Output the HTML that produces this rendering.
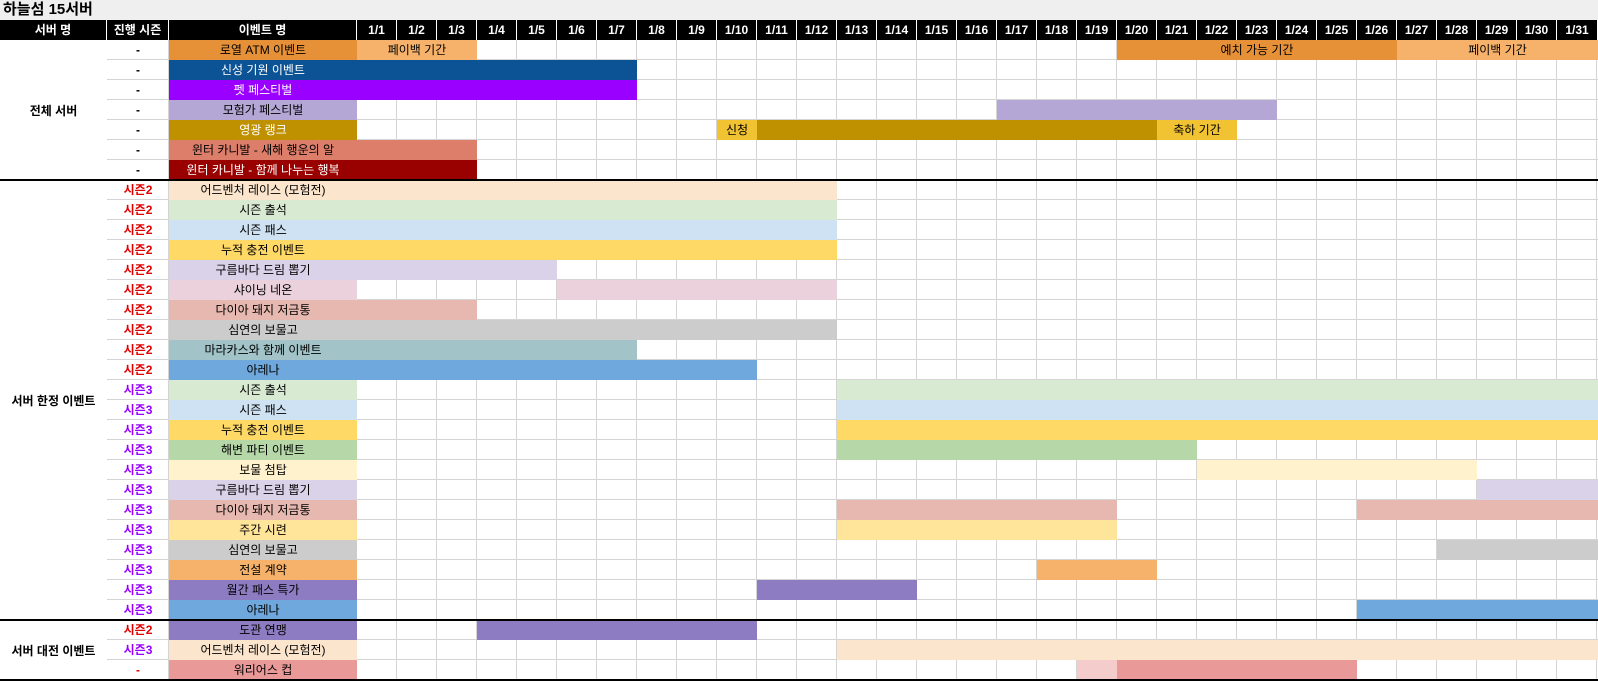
<!DOCTYPE html><html><head><meta charset="utf-8"><style>
body{margin:0;width:1598px;height:681px;overflow:hidden;background:#fff;font-family:"Liberation Sans","Noto Sans CJK KR","NanumGothic",sans-serif;font-size:12px;color:#000}
#w{position:relative;width:1598px;height:681px}
#w div{position:absolute;box-sizing:border-box}
.t{left:0;top:0;width:1598px;height:20px;background:#efefef;font-weight:bold;font-size:15px;line-height:20px;padding-left:3px}
.h{top:20px;height:20px;background:#000;color:#fff;font-weight:bold;text-align:center;line-height:20px;border-right:1px solid #fff}
.g{left:107px;top:40px;width:1491px;height:640px;background:
repeating-linear-gradient(to bottom,transparent 0 19px,#d4d4d4 19px 20px),
linear-gradient(to right,transparent 0 61px,#d4d4d4 61px 62px,transparent 62px)}
.gd{left:357px;top:40px;width:1241px;height:640px;background:repeating-linear-gradient(to right,transparent 0 39px,#d4d4d4 39px 40px)}
.e,.b{height:20px;line-height:20px;text-align:center;white-space:nowrap}
.e{left:169px;width:188px}
.s{left:107px;width:62px;height:20px;line-height:20px;text-align:center;font-weight:bold}
.r{color:#e00000}.p{color:#9900ff}
.k{left:0;width:1598px;height:2px;background:#000}
.sv{left:0;width:107px;text-align:center;font-weight:bold;background:#fff;display:flex;align-items:center;justify-content:center}
.wt{color:#fff}
</style></head><body><div id="w">
<div class="t">하늘섬 15서버</div>
<div class="g"></div><div class="gd"></div>
<div class="h" style="left:0;width:107px">서버 명</div>
<div class="h" style="left:107px;width:62px">진행 시즌</div>
<div class="h" style="left:169px;width:188px">이벤트 명</div>
<div class="h" style="left:357px;width:40px">1/1</div><div class="h" style="left:397px;width:40px">1/2</div><div class="h" style="left:437px;width:40px">1/3</div><div class="h" style="left:477px;width:40px">1/4</div><div class="h" style="left:517px;width:40px">1/5</div><div class="h" style="left:557px;width:40px">1/6</div><div class="h" style="left:597px;width:40px">1/7</div><div class="h" style="left:637px;width:40px">1/8</div><div class="h" style="left:677px;width:40px">1/9</div><div class="h" style="left:717px;width:40px">1/10</div><div class="h" style="left:757px;width:40px">1/11</div><div class="h" style="left:797px;width:40px">1/12</div><div class="h" style="left:837px;width:40px">1/13</div><div class="h" style="left:877px;width:40px">1/14</div><div class="h" style="left:917px;width:40px">1/15</div><div class="h" style="left:957px;width:40px">1/16</div><div class="h" style="left:997px;width:40px">1/17</div><div class="h" style="left:1037px;width:40px">1/18</div><div class="h" style="left:1077px;width:40px">1/19</div><div class="h" style="left:1117px;width:40px">1/20</div><div class="h" style="left:1157px;width:40px">1/21</div><div class="h" style="left:1197px;width:40px">1/22</div><div class="h" style="left:1237px;width:40px">1/23</div><div class="h" style="left:1277px;width:40px">1/24</div><div class="h" style="left:1317px;width:40px">1/25</div><div class="h" style="left:1357px;width:40px">1/26</div><div class="h" style="left:1397px;width:40px">1/27</div><div class="h" style="left:1437px;width:40px">1/28</div><div class="h" style="left:1477px;width:40px">1/29</div><div class="h" style="left:1517px;width:40px">1/30</div><div class="h" style="left:1557px;width:41px">1/31</div>

<div class="sv" style="top:40px;height:140px">전체 서버</div>
<div class="sv" style="top:180px;height:440px">서버 한정 이벤트</div>
<div class="sv" style="top:620px;height:60px">서버 대전 이벤트</div>

<!-- 전체 서버 -->
<div class="s" style="top:40px">-</div><div class="e" style="top:40px;background:#e69138">로열 ATM 이벤트</div>
<div class="b" style="top:40px;left:357px;width:120px;background:#f6b26b">페이백 기간</div>
<div class="b" style="top:40px;left:1117px;width:280px;background:#e69138">예치 가능 기간</div>
<div class="b" style="top:40px;left:1397px;width:201px;background:#f6b26b">페이백 기간</div>
<div class="s" style="top:60px">-</div><div class="e wt" style="top:60px;background:#0b5394">신성 기원 이벤트</div>
<div class="b" style="top:60px;left:357px;width:280px;background:#0b5394"></div>
<div class="s" style="top:80px">-</div><div class="e wt" style="top:80px;background:#9900ff">펫 페스티벌</div>
<div class="b" style="top:80px;left:357px;width:280px;background:#9900ff"></div>
<div class="s" style="top:100px">-</div><div class="e" style="top:100px;background:#b4a7d6">모험가 페스티벌</div>
<div class="b" style="top:100px;left:997px;width:280px;background:#b4a7d6"></div>
<div class="s" style="top:120px">-</div><div class="e wt" style="top:120px;background:#bf9000">영광 랭크</div>
<div class="b" style="top:120px;left:717px;width:40px;background:#f1c232">신청</div>
<div class="b" style="top:120px;left:757px;width:400px;background:#bf9000"></div>
<div class="b" style="top:120px;left:1157px;width:80px;background:#f1c232">축하 기간</div>
<div class="s" style="top:140px">-</div><div class="e" style="top:140px;background:#dd7e6b">윈터 카니발 - 새해 행운의 알</div>
<div class="b" style="top:140px;left:357px;width:120px;background:#dd7e6b"></div>
<div class="s" style="top:160px">-</div><div class="e wt" style="top:160px;background:#990000">윈터 카니발 - 함께 나누는 행복</div>
<div class="b" style="top:160px;left:357px;width:120px;background:#990000"></div>

<!-- 시즌2 -->
<div class="s r" style="top:180px">시즌2</div><div class="e" style="top:180px;background:#fce5cd">어드벤처 레이스 (모험전)</div>
<div class="b" style="top:180px;left:357px;width:480px;background:#fce5cd"></div>
<div class="s r" style="top:200px">시즌2</div><div class="e" style="top:200px;background:#d9ead3">시즌 출석</div>
<div class="b" style="top:200px;left:357px;width:480px;background:#d9ead3"></div>
<div class="s r" style="top:220px">시즌2</div><div class="e" style="top:220px;background:#cfe2f3">시즌 패스</div>
<div class="b" style="top:220px;left:357px;width:480px;background:#cfe2f3"></div>
<div class="s r" style="top:240px">시즌2</div><div class="e" style="top:240px;background:#ffd966">누적 충전 이벤트</div>
<div class="b" style="top:240px;left:357px;width:480px;background:#ffd966"></div>
<div class="s r" style="top:260px">시즌2</div><div class="e" style="top:260px;background:#d9d2e9">구름바다 드림 뽑기</div>
<div class="b" style="top:260px;left:357px;width:200px;background:#d9d2e9"></div>
<div class="s r" style="top:280px">시즌2</div><div class="e" style="top:280px;background:#ead1dc">샤이닝 네온</div>
<div class="b" style="top:280px;left:557px;width:280px;background:#ead1dc"></div>
<div class="s r" style="top:300px">시즌2</div><div class="e" style="top:300px;background:#e6b8af">다이아 돼지 저금통</div>
<div class="b" style="top:300px;left:357px;width:120px;background:#e6b8af"></div>
<div class="s r" style="top:320px">시즌2</div><div class="e" style="top:320px;background:#cccccc">심연의 보물고</div>
<div class="b" style="top:320px;left:357px;width:480px;background:#cccccc"></div>
<div class="s r" style="top:340px">시즌2</div><div class="e" style="top:340px;background:#a2c4c9">마라카스와 함께 이벤트</div>
<div class="b" style="top:340px;left:357px;width:280px;background:#a2c4c9"></div>
<div class="s r" style="top:360px">시즌2</div><div class="e" style="top:360px;background:#6fa8dc">아레나</div>
<div class="b" style="top:360px;left:357px;width:400px;background:#6fa8dc"></div>

<!-- 시즌3 -->
<div class="s p" style="top:380px">시즌3</div><div class="e" style="top:380px;background:#d9ead3">시즌 출석</div>
<div class="b" style="top:380px;left:837px;width:761px;background:#d9ead3"></div>
<div class="s p" style="top:400px">시즌3</div><div class="e" style="top:400px;background:#cfe2f3">시즌 패스</div>
<div class="b" style="top:400px;left:837px;width:761px;background:#cfe2f3"></div>
<div class="s p" style="top:420px">시즌3</div><div class="e" style="top:420px;background:#ffd966">누적 충전 이벤트</div>
<div class="b" style="top:420px;left:837px;width:761px;background:#ffd966"></div>
<div class="s p" style="top:440px">시즌3</div><div class="e" style="top:440px;background:#b6d7a8">해변 파티 이벤트</div>
<div class="b" style="top:440px;left:837px;width:360px;background:#b6d7a8"></div>
<div class="s p" style="top:460px">시즌3</div><div class="e" style="top:460px;background:#fff2cc">보물 첨탑</div>
<div class="b" style="top:460px;left:1197px;width:280px;background:#fff2cc"></div>
<div class="s p" style="top:480px">시즌3</div><div class="e" style="top:480px;background:#d9d2e9">구름바다 드림 뽑기</div>
<div class="b" style="top:480px;left:1477px;width:121px;background:#d9d2e9"></div>
<div class="s p" style="top:500px">시즌3</div><div class="e" style="top:500px;background:#e6b8af">다이아 돼지 저금통</div>
<div class="b" style="top:500px;left:837px;width:280px;background:#e6b8af"></div>
<div class="b" style="top:500px;left:1357px;width:241px;background:#e6b8af"></div>
<div class="s p" style="top:520px">시즌3</div><div class="e" style="top:520px;background:#ffe599">주간 시련</div>
<div class="b" style="top:520px;left:837px;width:280px;background:#ffe599"></div>
<div class="s p" style="top:540px">시즌3</div><div class="e" style="top:540px;background:#cccccc">심연의 보물고</div>
<div class="b" style="top:540px;left:1437px;width:161px;background:#cccccc"></div>
<div class="s p" style="top:560px">시즌3</div><div class="e" style="top:560px;background:#f6b26b">전설 계약</div>
<div class="b" style="top:560px;left:1037px;width:120px;background:#f6b26b"></div>
<div class="s p" style="top:580px">시즌3</div><div class="e" style="top:580px;background:#8e7cc3">월간 패스 특가</div>
<div class="b" style="top:580px;left:757px;width:160px;background:#8e7cc3"></div>
<div class="s p" style="top:600px">시즌3</div><div class="e" style="top:600px;background:#6fa8dc">아레나</div>
<div class="b" style="top:600px;left:1357px;width:241px;background:#6fa8dc"></div>

<!-- 서버 대전 -->
<div class="s r" style="top:620px">시즌2</div><div class="e" style="top:620px;background:#8e7cc3">도관 연맹</div>
<div class="b" style="top:620px;left:477px;width:280px;background:#8e7cc3"></div>
<div class="s p" style="top:640px">시즌3</div><div class="e" style="top:640px;background:#fce5cd">어드벤처 레이스 (모험전)</div>
<div class="b" style="top:640px;left:837px;width:761px;background:#fce5cd"></div>
<div class="s r" style="top:660px">-</div><div class="e" style="top:660px;background:#ea9999">워리어스 컵</div>
<div class="b" style="top:660px;left:1077px;width:40px;background:#f4cccc"></div>
<div class="b" style="top:660px;left:1117px;width:240px;background:#ea9999"></div>

<div class="k" style="top:179px"></div>
<div class="k" style="top:619px"></div>
<div class="k" style="top:679px"></div>
</div></body></html>
